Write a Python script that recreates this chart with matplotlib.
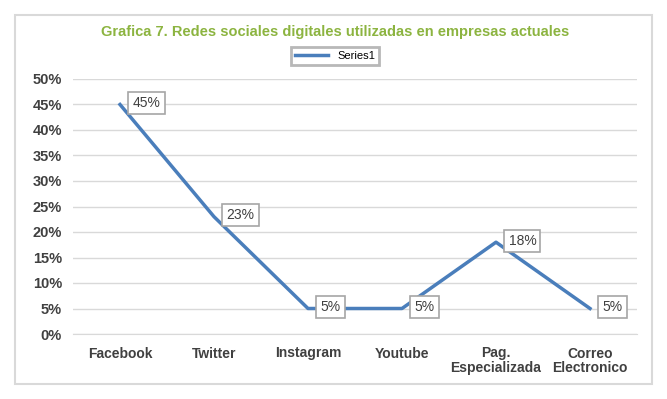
import matplotlib
matplotlib.use("Agg")
import matplotlib.pyplot as plt
from matplotlib.patches import Rectangle

categories = ["Facebook", "Twitter", "Instagram", "Youtube", "Pag.\nEspecializada", "Correo\nElectronico"]
values = [45, 23, 5, 5, 18, 5]
series_name = "Series1"
title = "Grafica 7. Redes sociales digitales utilizadas en empresas actuales"
yticks = [0, 5, 10, 15, 20, 25, 30, 35, 40, 45, 50]

plt.rcParams['font.family'] = ['Liberation Sans', 'DejaVu Sans']

fig = plt.figure(figsize=(6.67, 3.99), dpi=100)
fig.patch.set_facecolor('white')
# outer chart border
fig.add_artist(Rectangle((15/667, 1-384/399), (652-15)/667, (384-15)/399,
                         transform=fig.transFigure, fill=False, edgecolor='#d9d9d9', lw=1.5))

ax = fig.add_axes([73/667, 1-334/399, (637-73)/667, (334-79)/399])
x = list(range(len(categories)))
line, = ax.plot(x, values, color='#4a7ebb', lw=2.5, label=series_name)
ax.set_xlim(-0.5, len(categories)-0.5)
ax.set_ylim(0, 50)
ax.set_yticks(yticks)
ax.set_yticklabels([f"{v}%" for v in yticks], fontsize=10.5, color='#404040', fontweight='bold')
ax.set_xticks(x)
ax.set_xticklabels(categories, fontsize=10, color='#404040', fontweight='bold',
                   linespacing=1.05, multialignment='center')
ax.tick_params(axis='both', length=0, pad=8)
ax.tick_params(axis='x', pad=9)
ax.grid(axis='y', color='#d9d9d9', lw=1)
ax.set_axisbelow(True)
for s in ['top', 'right', 'left']:
    ax.spines[s].set_visible(False)
ax.spines['bottom'].set_color('#d9d9d9')

for xi, v in zip(x, values):
    ax.annotate(f"{v}%", (xi, v), xytext=(9, 1), textcoords='offset points',
                ha='left', va='center', fontsize=10, color='#404040',
                bbox=dict(boxstyle='square,pad=0.3', fc='white', ec='#a6a6a6', lw=1.2))

fig.text(335/667, 1-32/399, title, ha='center', va='center', fontsize=10.5,
         fontweight='bold', color='#8cb440')
leg = fig.legend(handles=[line], loc='center', bbox_to_anchor=(335/667, 1-56/399),
                 fontsize=8, frameon=True, handlelength=3, borderpad=0.4,
                 fancybox=False)
leg.get_frame().set_edgecolor('#a6a6a6')
leg.get_frame().set_linewidth(2)

fig.savefig('out.png', dpi=100)
